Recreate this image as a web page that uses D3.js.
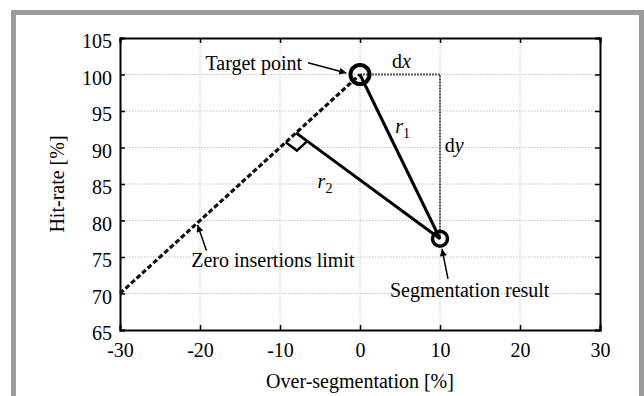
<!DOCTYPE html>
<html><head><meta charset="utf-8">
<script src="https://cdn.jsdelivr.net/npm/d3@7"></script>
<style>html,body{margin:0;padding:0;background:#fff;}svg{display:block;}</style>
</head><body>
<svg id="chart" width="644" height="396"></svg>
<script>
// ---- data ----
const xTicks = [-30, -20, -10, 0, 10, 20, 30];
const yTicks = [65, 70, 75, 80, 85, 90, 95, 100, 105];
const xLabel = "Over-segmentation [%]";
const yLabel = "Hit-rate [%]";
const targetPoint = [0, 100];
const segResult = [10, 77.5];
const limitLine = [[-30, 70], [0, 100]];
const perpFoot = [-8, 92];
const dxEnd = [10, 100];
// annotation anchors (data units)
const labelTarget = {text: "Target point", at: [-7.25, 100.62], from: [-6.5, 101.6], to: [-1.7, 100.2]};
const labelZero = {text: "Zero insertions limit", at: [-21.1, 73.6], from: [-19.2, 75.9], to: [-20.3, 79.4]};
const labelSeg = {text: "Segmentation result", at: [3.75, 69.5], from: [11, 72.0], to: [10.25, 76.1]};
const labelDx = [4.0, 100.9];
const labelDy = [10.6, 89.4];
const labelR1 = [4.4, 92.0];
const labelR2 = [-5.3, 84.4];

// ---- layout ----
const svg = d3.select("#chart");
const L = 120, R = 600, T = 38, B = 330;
const font = "'Liberation Serif','Times New Roman',serif";
const x = d3.scaleLinear().domain([-30, 30]).range([L, R]);
const y = d3.scaleLinear().domain([65, 105]).range([B, T]);

svg.append("rect").attr("width", 644).attr("height", 396).attr("fill", "#fff");
// outer gray frame
svg.append("rect").attr("x", 13.5).attr("y", 12.5).attr("width", 628).attr("height", 400)
  .attr("fill", "none").attr("stroke", "#9c9c9c").attr("stroke-width", 5);

const defs = svg.append("defs");
defs.append("marker").attr("id", "ah").attr("viewBox", "0 0 10 10")
  .attr("refX", 10).attr("refY", 5).attr("markerWidth", 9).attr("markerHeight", 7)
  .attr("markerUnits", "userSpaceOnUse").attr("orient", "auto")
  .append("path").attr("d", "M0,0 L10,5 L0,10 Z").attr("fill", "#000");

// grid
const g = svg.append("g");
g.selectAll(".gx").data(xTicks.slice(1, -1)).enter().append("line")
  .attr("x1", d => x(d)).attr("x2", d => x(d)).attr("y1", T).attr("y2", B)
  .attr("stroke", "#c4c4c4").attr("stroke-width", 1).attr("stroke-dasharray", "1.5,1.5");
g.selectAll(".gy").data(yTicks.slice(1, -1)).enter().append("line")
  .attr("y1", d => y(d)).attr("y2", d => y(d)).attr("x1", L).attr("x2", R)
  .attr("stroke", "#c4c4c4").attr("stroke-width", 1).attr("stroke-dasharray", "1.5,1.5");

// axes (MATLAB box style, inward ticks)
const fmt = d => String(d);
const axB = d3.axisBottom(x).tickValues(xTicks).tickSize(-5).tickPadding(13).tickFormat(fmt);
const axL = d3.axisLeft(y).tickValues(yTicks).tickSize(-5).tickPadding(8).tickFormat(fmt);
const axT = d3.axisTop(x).tickValues(xTicks).tickSize(-5).tickFormat("");
const axR = d3.axisRight(y).tickValues(yTicks).tickSize(-5).tickFormat("");
function styleAxis(sel) {
  sel.select(".domain").attr("stroke", "#000").attr("stroke-width", 2);
  sel.selectAll(".tick line").attr("stroke", "#000").attr("stroke-width", 1.5);
  sel.selectAll(".tick text").attr("font-family", font).attr("font-size", 20).attr("fill", "#000");
}
svg.append("g").attr("transform", `translate(0,${B})`).call(axB).call(styleAxis)
  .selectAll(".tick text").attr("dy", "0.72em");
svg.append("g").attr("transform", `translate(${L},0)`).call(axL).call(styleAxis)
  .selectAll(".tick text").attr("dy", "0.48em");
svg.append("g").attr("transform", `translate(0,${T})`).call(axT).call(styleAxis);
svg.append("g").attr("transform", `translate(${R},0)`).call(axR).call(styleAxis);

// axis labels
svg.append("text").attr("x", (L + R) / 2).attr("y", 388).attr("text-anchor", "middle")
  .attr("font-family", font).attr("font-size", 20).text(xLabel);
svg.append("text").attr("transform", `translate(64,${(T + B) / 2}) rotate(-90)`).attr("text-anchor", "middle")
  .attr("font-family", font).attr("font-size", 20).text(yLabel);

// dx / dy dotted guides
const pts = svg.append("g");
pts.append("path").attr("d", d3.line()([[x(targetPoint[0]), y(targetPoint[1])], [x(dxEnd[0]), y(dxEnd[1])], [x(segResult[0]), y(segResult[1])]]))
  .attr("fill", "none").attr("stroke", "#555").attr("stroke-width", 2).attr("stroke-dasharray", "2,1");

// zero insertions limit dashed line
pts.append("path").attr("d", d3.line().x(d => x(d[0])).y(d => y(d[1]))(limitLine))
  .attr("fill", "none").attr("stroke", "#111").attr("stroke-width", 3.2).attr("stroke-dasharray", "5,2.5");

// r1 and r2 lines
pts.append("line").attr("x1", x(targetPoint[0])).attr("y1", y(targetPoint[1]))
  .attr("x2", x(segResult[0])).attr("y2", y(segResult[1])).attr("stroke", "#000").attr("stroke-width", 3);
pts.append("line").attr("x1", x(perpFoot[0])).attr("y1", y(perpFoot[1]))
  .attr("x2", x(segResult[0])).attr("y2", y(segResult[1])).attr("stroke", "#000").attr("stroke-width", 3);

// right-angle marker
(function () {
  const F = [x(perpFoot[0]), y(perpFoot[1])];
  const A = [x(limitLine[0][0]), y(limitLine[0][1])];
  const P = [x(segResult[0]), y(segResult[1])];
  const unit = (p, q) => { const dx = q[0] - p[0], dy = q[1] - p[1], n = Math.hypot(dx, dy); return [dx / n, dy / n]; };
  const u = unit(F, A), v = unit(F, P), s = 14;
  const p1 = [F[0] + u[0] * s, F[1] + u[1] * s];
  const p2 = [F[0] + v[0] * s, F[1] + v[1] * s];
  const p3 = [p1[0] + v[0] * s, p1[1] + v[1] * s];
  pts.append("path").attr("d", d3.line()([p1, p3, p2]))
    .attr("fill", "none").attr("stroke", "#000").attr("stroke-width", 2.5);
})();

// circles
pts.append("circle").attr("cx", x(targetPoint[0])).attr("cy", y(targetPoint[1])).attr("r", 9.5)
  .attr("fill", "none").attr("stroke", "#000").attr("stroke-width", 4);
pts.append("circle").attr("cx", x(segResult[0])).attr("cy", y(segResult[1])).attr("r", 7.5)
  .attr("fill", "none").attr("stroke", "#000").attr("stroke-width", 3.5);

// annotations
const ann = svg.append("g").attr("font-family", font).attr("font-size", 20).attr("fill", "#000");
ann.append("text").attr("x", x(labelTarget.at[0])).attr("y", y(labelTarget.at[1])).attr("text-anchor", "end").text(labelTarget.text);
ann.append("text").attr("x", x(labelZero.at[0])).attr("y", y(labelZero.at[1])).text(labelZero.text);
ann.append("text").attr("x", x(labelSeg.at[0])).attr("y", y(labelSeg.at[1])).text(labelSeg.text);
[labelTarget, labelZero, labelSeg].forEach(a => {
  ann.append("line").attr("x1", x(a.from[0])).attr("y1", y(a.from[1])).attr("x2", x(a.to[0])).attr("y2", y(a.to[1]))
    .attr("stroke", "#000").attr("stroke-width", 1.5).attr("marker-end", "url(#ah)");
});
const tdx = ann.append("text").attr("x", x(labelDx[0])).attr("y", y(labelDx[1]));
tdx.append("tspan").text("d"); tdx.append("tspan").attr("font-style", "italic").text("x");
const tdy = ann.append("text").attr("x", x(labelDy[0])).attr("y", y(labelDy[1]));
tdy.append("tspan").text("d"); tdy.append("tspan").attr("font-style", "italic").text("y");
const tr1 = ann.append("text").attr("x", x(labelR1[0])).attr("y", y(labelR1[1]));
tr1.append("tspan").attr("font-style", "italic").text("r");
tr1.append("tspan").attr("font-size", 14).attr("dy", 5).text("1");
const tr2 = ann.append("text").attr("x", x(labelR2[0])).attr("y", y(labelR2[1]));
tr2.append("tspan").attr("font-style", "italic").text("r");
tr2.append("tspan").attr("font-size", 14).attr("dy", 5).text("2");
</script>
</body></html>
